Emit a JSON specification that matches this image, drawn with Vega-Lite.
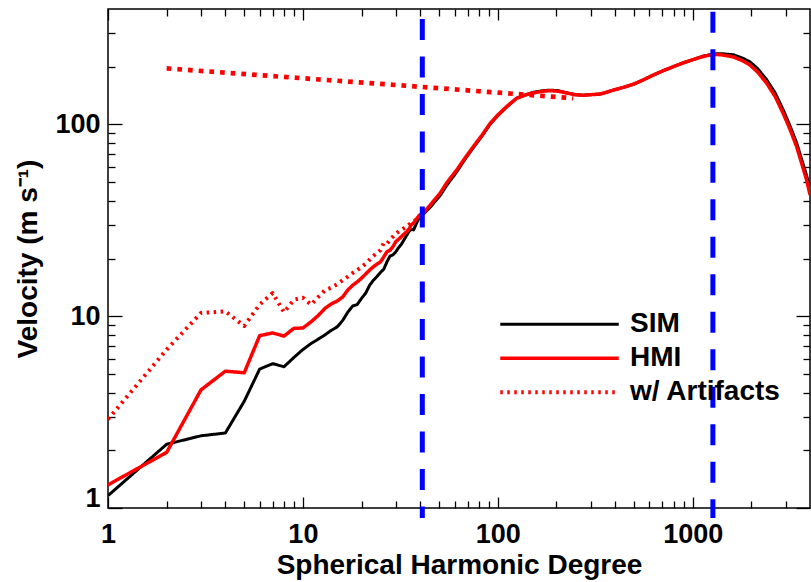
{
  "$schema": "https://vega.github.io/schema/vega-lite/v6.json",
  "width": 702,
  "height": 499,
  "autosize": "none",
  "padding": {"left": 108, "top": 9, "right": 1, "bottom": 74},
  "background": "white",
  "config": {
    "view": {"stroke": "#000000", "strokeWidth": 1.5},
    "font": "Liberation Sans",
    "axis": {
      "domain": false,
      "grid": false,
      "tickColor": "#000000",
      "tickWidth": 1.3,
      "labelFont": "Liberation Sans",
      "labelFontWeight": "bold",
      "labelFontSize": 27,
      "labelColor": "#000000",
      "titleFont": "Liberation Sans",
      "titleFontWeight": "bold",
      "titleFontSize": 28,
      "titleColor": "#000000"
    }
  },
  "resolve": {"axis": {"x": "independent", "y": "independent"}},
  "layer": [
    {
      "data": {
        "values": [
          {"s": "w/ Artifacts", "l": 1, "v": 2.9},
          {"s": "w/ Artifacts", "l": 2, "v": 6.7},
          {"s": "w/ Artifacts", "l": 3, "v": 10.4},
          {"s": "w/ Artifacts", "l": 4, "v": 10.6},
          {"s": "w/ Artifacts", "l": 5, "v": 8.9},
          {"s": "w/ Artifacts", "l": 6, "v": 11.5},
          {"s": "w/ Artifacts", "l": 7, "v": 13.2},
          {"s": "w/ Artifacts", "l": 8, "v": 10.5},
          {"s": "w/ Artifacts", "l": 9, "v": 12.2},
          {"s": "w/ Artifacts", "l": 10, "v": 12.5},
          {"s": "w/ Artifacts", "l": 11, "v": 11.5},
          {"s": "w/ Artifacts", "l": 12, "v": 12.6},
          {"s": "w/ Artifacts", "l": 13, "v": 13.7},
          {"s": "w/ Artifacts", "l": 14, "v": 14.1},
          {"s": "w/ Artifacts", "l": 15, "v": 14.7},
          {"s": "w/ Artifacts", "l": 16, "v": 15.4},
          {"s": "w/ Artifacts", "l": 17, "v": 16.1},
          {"s": "w/ Artifacts", "l": 18, "v": 16.8},
          {"s": "w/ Artifacts", "l": 19, "v": 17.4},
          {"s": "w/ Artifacts", "l": 20, "v": 18.1},
          {"s": "w/ Artifacts", "l": 21, "v": 18.8},
          {"s": "w/ Artifacts", "l": 22, "v": 19.7},
          {"s": "w/ Artifacts", "l": 23, "v": 20.6},
          {"s": "w/ Artifacts", "l": 24, "v": 21.4},
          {"s": "w/ Artifacts", "l": 25, "v": 22.1},
          {"s": "w/ Artifacts", "l": 26, "v": 24.1},
          {"s": "w/ Artifacts", "l": 27, "v": 23.9},
          {"s": "w/ Artifacts", "l": 28, "v": 25},
          {"s": "w/ Artifacts", "l": 29, "v": 26},
          {"s": "w/ Artifacts", "l": 30, "v": 27},
          {"s": "w/ Artifacts", "l": 32, "v": 28.2},
          {"s": "w/ Artifacts", "l": 34, "v": 29.3},
          {"s": "w/ Artifacts", "l": 36, "v": 30.7},
          {"s": "w/ Artifacts", "l": 38, "v": 31.8},
          {"s": "w/ Artifacts", "l": 40, "v": 33.8},

          {"s": "SIM", "l": 1, "v": 1.16},
          {"s": "SIM", "l": 2, "v": 2.15},
          {"s": "SIM", "l": 3, "v": 2.38},
          {"s": "SIM", "l": 4, "v": 2.46},
          {"s": "SIM", "l": 5, "v": 3.6},
          {"s": "SIM", "l": 6, "v": 5.3},
          {"s": "SIM", "l": 7, "v": 5.66},
          {"s": "SIM", "l": 8, "v": 5.45},
          {"s": "SIM", "l": 9, "v": 6.1},
          {"s": "SIM", "l": 10, "v": 6.7},
          {"s": "SIM", "l": 11, "v": 7.2},
          {"s": "SIM", "l": 12, "v": 7.6},
          {"s": "SIM", "l": 13, "v": 8.0},
          {"s": "SIM", "l": 14, "v": 8.45},
          {"s": "SIM", "l": 15, "v": 8.8},
          {"s": "SIM", "l": 16, "v": 9.5},
          {"s": "SIM", "l": 17, "v": 10.5},
          {"s": "SIM", "l": 18, "v": 11.3},
          {"s": "SIM", "l": 19, "v": 11.5},
          {"s": "SIM", "l": 20, "v": 12.4},
          {"s": "SIM", "l": 21, "v": 13.2},
          {"s": "SIM", "l": 22, "v": 14.5},
          {"s": "SIM", "l": 23, "v": 15.4},
          {"s": "SIM", "l": 24, "v": 16.1},
          {"s": "SIM", "l": 25, "v": 16.9},
          {"s": "SIM", "l": 26, "v": 17.6},
          {"s": "SIM", "l": 27, "v": 19.2},
          {"s": "SIM", "l": 28, "v": 20.6},
          {"s": "SIM", "l": 29, "v": 20.9},
          {"s": "SIM", "l": 30, "v": 21.7},
          {"s": "SIM", "l": 31, "v": 22.8},
          {"s": "SIM", "l": 32, "v": 23.7},
          {"s": "SIM", "l": 33, "v": 25},
          {"s": "SIM", "l": 34, "v": 26.3},
          {"s": "SIM", "l": 35, "v": 27.6},
          {"s": "SIM", "l": 36, "v": 28.4},
          {"s": "SIM", "l": 37, "v": 28.2},
          {"s": "SIM", "l": 38, "v": 30},
          {"s": "SIM", "l": 39, "v": 31.8},
          {"s": "SIM", "l": 40, "v": 33},
          {"s": "SIM", "l": 42, "v": 34.5},
          {"s": "SIM", "l": 45, "v": 37},
          {"s": "SIM", "l": 50.5, "v": 42.5},
          {"s": "SIM", "l": 55, "v": 48.5},
          {"s": "SIM", "l": 61.5, "v": 56.5},
          {"s": "SIM", "l": 68, "v": 66},
          {"s": "SIM", "l": 74.8, "v": 75.5},
          {"s": "SIM", "l": 83, "v": 87},
          {"s": "SIM", "l": 91.2, "v": 100},
          {"s": "SIM", "l": 100, "v": 111},
          {"s": "SIM", "l": 111, "v": 123},
          {"s": "SIM", "l": 125, "v": 137},
          {"s": "SIM", "l": 140, "v": 143},
          {"s": "SIM", "l": 152, "v": 147},
          {"s": "SIM", "l": 170, "v": 150},
          {"s": "SIM", "l": 185, "v": 151},
          {"s": "SIM", "l": 205, "v": 150},
          {"s": "SIM", "l": 226, "v": 146},
          {"s": "SIM", "l": 250, "v": 143},
          {"s": "SIM", "l": 275, "v": 142},
          {"s": "SIM", "l": 300, "v": 143},
          {"s": "SIM", "l": 334, "v": 144},
          {"s": "SIM", "l": 360, "v": 147},
          {"s": "SIM", "l": 391, "v": 151},
          {"s": "SIM", "l": 440, "v": 156},
          {"s": "SIM", "l": 496, "v": 162},
          {"s": "SIM", "l": 560, "v": 171},
          {"s": "SIM", "l": 628, "v": 181},
          {"s": "SIM", "l": 700, "v": 190},
          {"s": "SIM", "l": 795, "v": 200},
          {"s": "SIM", "l": 900, "v": 210},
          {"s": "SIM", "l": 1007, "v": 218},
          {"s": "SIM", "l": 1130, "v": 227},
          {"s": "SIM", "l": 1276, "v": 233},
          {"s": "SIM", "l": 1400, "v": 234},
          {"s": "SIM", "l": 1616, "v": 231},
          {"s": "SIM", "l": 1800, "v": 222},
          {"s": "SIM", "l": 1968, "v": 212},
          {"s": "SIM", "l": 2150, "v": 196},
          {"s": "SIM", "l": 2398, "v": 171},
          {"s": "SIM", "l": 2650, "v": 146},
          {"s": "SIM", "l": 2916, "v": 119},
          {"s": "SIM", "l": 3150, "v": 99},
          {"s": "SIM", "l": 3418, "v": 80},
          {"s": "SIM", "l": 3845, "v": 54},
          {"s": "SIM", "l": 4000, "v": 46},

          {"s": "HMI", "l": 1, "v": 1.32},
          {"s": "HMI", "l": 2, "v": 1.95},
          {"s": "HMI", "l": 3, "v": 4.13},
          {"s": "HMI", "l": 4, "v": 5.17},
          {"s": "HMI", "l": 5, "v": 5.07},
          {"s": "HMI", "l": 6, "v": 7.92},
          {"s": "HMI", "l": 7, "v": 8.18},
          {"s": "HMI", "l": 8, "v": 7.88},
          {"s": "HMI", "l": 9, "v": 8.65},
          {"s": "HMI", "l": 10, "v": 8.68},
          {"s": "HMI", "l": 11, "v": 9.34},
          {"s": "HMI", "l": 12, "v": 10.1},
          {"s": "HMI", "l": 13, "v": 11},
          {"s": "HMI", "l": 14, "v": 11.6},
          {"s": "HMI", "l": 15, "v": 12.0},
          {"s": "HMI", "l": 16, "v": 12.6},
          {"s": "HMI", "l": 17, "v": 13.7},
          {"s": "HMI", "l": 18, "v": 14.5},
          {"s": "HMI", "l": 19, "v": 15.1},
          {"s": "HMI", "l": 20, "v": 15.8},
          {"s": "HMI", "l": 21, "v": 16.6},
          {"s": "HMI", "l": 22, "v": 17.4},
          {"s": "HMI", "l": 23, "v": 18.1},
          {"s": "HMI", "l": 24, "v": 18.7},
          {"s": "HMI", "l": 25, "v": 19.2},
          {"s": "HMI", "l": 26, "v": 20.4},
          {"s": "HMI", "l": 27, "v": 21.7},
          {"s": "HMI", "l": 28, "v": 22.1},
          {"s": "HMI", "l": 29, "v": 23.1},
          {"s": "HMI", "l": 30, "v": 24.5},
          {"s": "HMI", "l": 31, "v": 25.2},
          {"s": "HMI", "l": 32, "v": 26},
          {"s": "HMI", "l": 33, "v": 26.8},
          {"s": "HMI", "l": 34, "v": 27.5},
          {"s": "HMI", "l": 35, "v": 28.4},
          {"s": "HMI", "l": 36, "v": 30},
          {"s": "HMI", "l": 37, "v": 30.6},
          {"s": "HMI", "l": 38, "v": 31.8},
          {"s": "HMI", "l": 39, "v": 33},
          {"s": "HMI", "l": 40, "v": 33.8},
          {"s": "HMI", "l": 42, "v": 35},
          {"s": "HMI", "l": 45, "v": 38},
          {"s": "HMI", "l": 50.5, "v": 43.7},
          {"s": "HMI", "l": 55, "v": 50},
          {"s": "HMI", "l": 61.5, "v": 57.8},
          {"s": "HMI", "l": 68, "v": 67},
          {"s": "HMI", "l": 74.8, "v": 76.5},
          {"s": "HMI", "l": 83, "v": 88},
          {"s": "HMI", "l": 91.2, "v": 101},
          {"s": "HMI", "l": 100, "v": 112},
          {"s": "HMI", "l": 111, "v": 124},
          {"s": "HMI", "l": 125, "v": 137},
          {"s": "HMI", "l": 140, "v": 143},
          {"s": "HMI", "l": 152, "v": 146},
          {"s": "HMI", "l": 170, "v": 149},
          {"s": "HMI", "l": 185, "v": 150},
          {"s": "HMI", "l": 205, "v": 149},
          {"s": "HMI", "l": 226, "v": 146},
          {"s": "HMI", "l": 250, "v": 143},
          {"s": "HMI", "l": 275, "v": 142},
          {"s": "HMI", "l": 300, "v": 143},
          {"s": "HMI", "l": 334, "v": 144},
          {"s": "HMI", "l": 360, "v": 147},
          {"s": "HMI", "l": 391, "v": 151},
          {"s": "HMI", "l": 440, "v": 156},
          {"s": "HMI", "l": 496, "v": 162},
          {"s": "HMI", "l": 560, "v": 171},
          {"s": "HMI", "l": 628, "v": 181},
          {"s": "HMI", "l": 700, "v": 190},
          {"s": "HMI", "l": 795, "v": 200},
          {"s": "HMI", "l": 900, "v": 210},
          {"s": "HMI", "l": 1007, "v": 218},
          {"s": "HMI", "l": 1130, "v": 226},
          {"s": "HMI", "l": 1276, "v": 232},
          {"s": "HMI", "l": 1400, "v": 231},
          {"s": "HMI", "l": 1616, "v": 225},
          {"s": "HMI", "l": 1800, "v": 215},
          {"s": "HMI", "l": 1968, "v": 204},
          {"s": "HMI", "l": 2150, "v": 188},
          {"s": "HMI", "l": 2398, "v": 164},
          {"s": "HMI", "l": 2650, "v": 140},
          {"s": "HMI", "l": 2916, "v": 114},
          {"s": "HMI", "l": 3150, "v": 95},
          {"s": "HMI", "l": 3418, "v": 76.5},
          {"s": "HMI", "l": 3845, "v": 51.3},
          {"s": "HMI", "l": 4000, "v": 43}
        ]
      },
      "mark": {"type": "line", "clip": true, "strokeCap": "butt", "strokeJoin": "round"},
      "encoding": {
        "x": {
          "field": "l", "type": "quantitative",
          "scale": {"type": "log", "domain": [1, 4000], "nice": false},
          "axis": {
            "orient": "bottom", "values": [1, 10, 100, 1000], "format": "d",
            "tickSize": -11, "labelPadding": 24, "labelFlush": false,
            "title": "Spherical Harmonic Degree", "titlePadding": 4
          }
        },
        "y": {
          "field": "v", "type": "quantitative",
          "scale": {"type": "log", "domain": [1, 400], "nice": false},
          "axis": {
            "orient": "left", "values": [1, 10, 100], "format": "d",
            "tickSize": -14, "labelPadding": 22, "labelFlush": false,
            "labelOffset": {"condition": {"test": "datum.value == 1", "value": -10}, "value": 0},
            "title": "Velocity (m s⁻¹)", "titlePadding": 12
          }
        },
        "color": {
          "field": "s", "type": "nominal",
          "scale": {"domain": ["SIM", "HMI", "w/ Artifacts"], "range": ["#000000", "#ff0000", "#ff0000"]},
          "legend": {
            "orient": "none", "legendX": 390, "legendY": 298.5,
            "title": null, "symbolType": "stroke", "symbolSize": 14040,
            "clipHeight": 33.7, "rowPadding": 0, "padding": 0,
            "labelFont": "Liberation Sans", "labelFontWeight": "bold", "labelFontSize": 28,
            "labelColor": "#000000", "labelOffset": 9, "labelLimit": 400
          }
        },
        "strokeDash": {
          "field": "s", "type": "nominal",
          "scale": {"domain": ["SIM", "HMI", "w/ Artifacts"], "range": [[1, 0], [1, 0], [2.5, 4.5]]},
          "legend": {
            "orient": "none", "legendX": 390, "legendY": 298.5,
            "title": null, "symbolType": "stroke", "symbolSize": 14040,
            "clipHeight": 33.7, "rowPadding": 0, "padding": 0,
            "labelFont": "Liberation Sans", "labelFontWeight": "bold", "labelFontSize": 28,
            "labelColor": "#000000", "labelOffset": 9, "labelLimit": 400
          }
        },
        "strokeWidth": {
          "field": "s", "type": "nominal",
          "scale": {"domain": ["SIM", "HMI", "w/ Artifacts"], "range": [3, 4, 2.5]},
          "legend": {
            "orient": "none", "legendX": 390, "legendY": 298.5,
            "title": null, "symbolType": "stroke", "symbolSize": 14040,
            "clipHeight": 33.7, "rowPadding": 0, "padding": 0,
            "labelFont": "Liberation Sans", "labelFontWeight": "bold", "labelFontSize": 28,
            "labelColor": "#000000", "labelOffset": 9, "labelLimit": 400
          }
        }
      }
    },
    {
      "data": {"values": [{"l": 2, "v": 196}, {"l": 31.5, "v": 160}, {"l": 244, "v": 137}]},
      "mark": {"type": "line", "color": "#ff0000", "strokeWidth": 4.7, "strokeDash": [4.7, 6], "strokeCap": "butt", "clip": true},
      "encoding": {
        "x": {
          "field": "l", "type": "quantitative",
          "scale": {"type": "log", "domain": [1, 4000], "nice": false},
          "axis": {"orient": "bottom", "values": [2,3,4,5,6,7,8,9,20,30,40,50,60,70,80,90,200,300,400,500,600,700,800,900,2000,3000], "tickSize": -7, "labels": false, "title": null}
        },
        "y": {
          "field": "v", "type": "quantitative",
          "scale": {"type": "log", "domain": [1, 400], "nice": false},
          "axis": {"orient": "left", "values": [2,3,4,5,6,7,8,9,20,30,40,50,60,70,80,90,200,300], "tickSize": -7, "labels": false, "title": null}
        }
      }
    },
    {
      "data": {"values": [{"l": 41}]},
      "mark": {"type": "rule", "color": "#0000ff", "strokeWidth": 5, "strokeDash": [21, 16.5], "clip": false},
      "encoding": {
        "x": {
          "field": "l", "type": "quantitative",
          "scale": {"type": "log", "domain": [1, 4000], "nice": false},
          "axis": {"orient": "top", "values": [1, 10, 100, 1000], "tickSize": -11, "labels": false, "title": null}
        },
        "y": {
          "datum": 355, "type": "quantitative",
          "scale": {"type": "log", "domain": [1, 400], "nice": false},
          "axis": {"orient": "right", "values": [1, 10, 100], "tickSize": -14, "labels": false, "title": null}
        },
        "y2": {"datum": 0.886}
      }
    },
    {
      "data": {"values": [{"l": 1270}]},
      "mark": {"type": "rule", "color": "#0000ff", "strokeWidth": 5, "strokeDash": [21, 16.5], "clip": false},
      "encoding": {
        "x": {
          "field": "l", "type": "quantitative",
          "scale": {"type": "log", "domain": [1, 4000], "nice": false},
          "axis": {"orient": "top", "values": [2,3,4,5,6,7,8,9,20,30,40,50,60,70,80,90,200,300,400,500,600,700,800,900,2000,3000], "tickSize": -7, "labels": false, "title": null}
        },
        "y": {
          "datum": 387, "type": "quantitative",
          "scale": {"type": "log", "domain": [1, 400], "nice": false},
          "axis": {"orient": "right", "values": [2,3,4,5,6,7,8,9,20,30,40,50,60,70,80,90,200,300], "tickSize": -7, "labels": false, "title": null}
        },
        "y2": {"datum": 0.886}
      }
    }
  ]
}
